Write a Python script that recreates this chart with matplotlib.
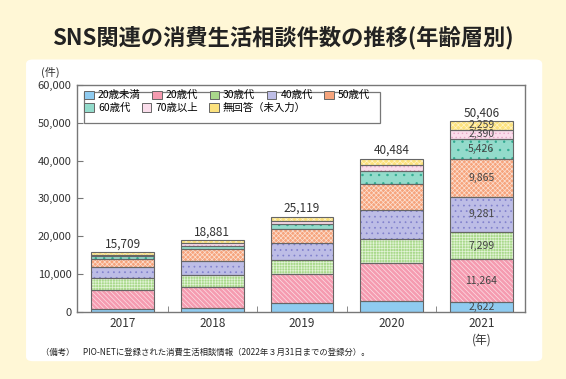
import matplotlib.pyplot as plt
import matplotlib.patches as mpatches
import numpy as np

plt.rcParams['font.family'] = ['Noto Sans CJK JP', 'DejaVu Sans']
plt.rcParams['hatch.linewidth'] = 0.5

# 年度
years = ['2017', '2018', '2019', '2020', '2021']

# 年齢層
groups = ['20歳未満', '20歳代', '30歳代', '40歳代', '50歳代',
          '60歳代', '70歳以上', '無回答（未入力）']

# 件数（2017-2020は図から読み取り）
under20 = [800, 1070, 2230, 2940, 2622]
age20 = [5059, 5631, 7749, 9984, 11264]
age30 = [3000, 3100, 3840, 6250, 7299]
age40 = [3000, 3750, 4280, 7750, 9281]
age50 = [2150, 2950, 3740, 6950, 9865]
age60 = [700, 880, 1510, 3390, 5426]
age70 = [450, 720, 720, 1690, 2390]
no_answer = [550, 780, 1050, 1530, 2259]

series = [under20, age20, age30, age40, age50, age60, age70, no_answer]

face_colors = ['#8FCBF0', '#F59BB0', '#A9D98B', '#BDBDE6',
               '#F6A47C', '#93DBCB', '#FADDEB', '#FCE27E']
hatches = ['', '\\\\\\\\\\\\\\', '++++++', '...', 'xxxxxxx', '..', '....', 'xxxxxx']
hatch_colors = ['#8FCBF0', '#FCE0E7', '#E2F3D6', '#8080CC',
                '#FCE0D2', '#2FA98F', '#E8A8C8', '#FFF3C8']

fig = plt.figure(figsize=(5.66, 3.79), dpi=100)
fig.patch.set_facecolor('#FFF7D6')

panel = mpatches.FancyBboxPatch((0.046, 0.047), 0.912, 0.796,
                                boxstyle='round,pad=0,rounding_size=0.012',
                                transform=fig.transFigure, facecolor='white',
                                edgecolor='none', zorder=-10)
fig.patches.append(panel)

fig.text(0.5, 0.902, 'SNS関連の消費生活相談件数の推移(年齢層別)',
         ha='center', va='center', fontsize=16, fontweight='bold', color='#222222')

ax = fig.add_axes([0.136, 0.177, 0.792, 0.599])
ax.set_facecolor('white')

x = np.arange(len(years))
width = 0.7
bottom = np.zeros(len(years))
handles = []
for vals, name, fc, hc, h in zip(series, groups, face_colors, hatch_colors, hatches):
    ax.bar(x, vals, width, bottom=bottom, color=fc, edgecolor=hc,
           hatch=h, linewidth=0, zorder=2)
    ax.bar(x, vals, width, bottom=bottom, fill=False, edgecolor='#666666',
           linewidth=0.8, zorder=3)
    handles.append(mpatches.Patch(facecolor=fc, edgecolor='#666666',
                                  linewidth=0.7, label=name))
    bottom += np.array(vals)

totals = bottom
for xi, t in zip(x, totals):
    ax.text(xi, t + 500, f'{int(t):,}', ha='center', va='bottom',
            fontsize=8.5, color='#333333')

# 2021年の内訳
b = 0
for vals in series:
    v = vals[-1]
    ax.text(x[-1], b + v / 2, f'{v:,}', ha='center', va='center',
            fontsize=7.5, color='#444444', zorder=4)
    b += v

ax.set_xlim(-0.51, 4.49)
ax.set_ylim(0, 60000)
ax.set_yticks(np.arange(0, 60001, 10000))
ax.set_yticklabels([f'{v:,}' for v in range(0, 60001, 10000)])
ax.set_xticks(x)
ax.set_xticklabels(years)
ax.set_xticks(np.arange(0.5, 4, 1), minor=True)
ax.tick_params(axis='x', which='major', length=0, labelsize=8.5,
               colors='#333333', pad=4)
ax.tick_params(axis='x', which='minor', direction='in', length=4, color='#777777')
ax.tick_params(axis='y', direction='in', length=4, labelsize=8,
               colors='#777777', labelcolor='#333333', pad=4)
for s in ax.spines.values():
    s.set_color('#777777')
    s.set_linewidth(1)

ax.text(-0.06, 1.055, '(件)', transform=ax.transAxes, fontsize=8,
        color='#333333', ha='center', va='center')
ax.text(4, -0.095, '(年)', transform=ax.get_xaxis_transform(), fontsize=8.5,
        color='#333333', ha='center', va='top')

# 凡例（2段）
frame = mpatches.Rectangle((0.016, 0.833), 0.66, 0.136, transform=ax.transAxes,
                           facecolor='white', edgecolor='#777777',
                           linewidth=0.9, zorder=5)
ax.add_patch(frame)
leg1 = ax.legend(handles=handles[:5], ncol=5, loc='upper left',
                 bbox_to_anchor=(0.012, 0.985), frameon=False, fontsize=7.5,
                 handlelength=0.9, handleheight=0.9, handletextpad=0.4,
                 columnspacing=1.1, borderpad=0.2, borderaxespad=0)
leg1.set_zorder(6)
ax.add_artist(leg1)
leg2 = ax.legend(handles=handles[5:], ncol=3, loc='upper left',
                 bbox_to_anchor=(0.012, 0.93), frameon=False, fontsize=7.5,
                 handlelength=0.9, handleheight=0.9, handletextpad=0.4,
                 columnspacing=1.1, borderpad=0.2, borderaxespad=0)
leg2.set_zorder(6)

fig.text(0.072, 0.07, '（備考）　PIO-NETに登録された消費生活相談情報（2022年３月31日までの登録分）。',
         fontsize=6, color='#222222', ha='left', va='center')

fig.savefig('out.png', dpi=100, facecolor=fig.get_facecolor())
